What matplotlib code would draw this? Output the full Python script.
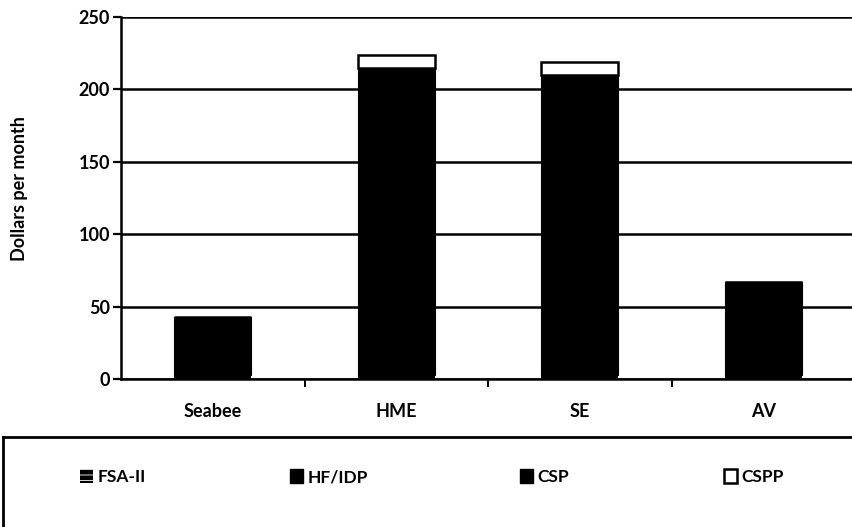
import numpy as np
import matplotlib.pyplot as plt
from matplotlib.patches import Patch

# --- data ---
categories = ["Seabee", "HME", "SE", "AV"]
fsa_ii = [3, 3, 3, 3]
hf_idp = [14, 12, 11, 9]
csp = [26, 200, 196, 55]
cspp = [0, 9, 9, 0]
yticks = [0, 50, 100, 150, 200, 250]
legend_labels = ["FSA-II", "HF/IDP", "CSP", "CSPP"]

plt.rcParams['font.family'] = ['Lato', 'DejaVu Sans']
plt.rcParams['hatch.linewidth'] = 0.6

W, H = 853, 527
fig = plt.figure(figsize=(W / 100, H / 100), dpi=100)

# --- main axes ---
ax = fig.add_axes([121 / W, 1 - 379 / H, (855 - 121) / W, (379 - 17) / H])
x = np.arange(len(categories))
bw = 0.42

b0 = np.zeros(len(categories))
ax.bar(x, fsa_ii, bw, bottom=b0, color="black", edgecolor="white",
       hatch="---", linewidth=0, zorder=3)
b1 = b0 + np.array(fsa_ii)
ax.bar(x, hf_idp, bw, bottom=b1, color="black", edgecolor="black",
       linewidth=0.8, zorder=3)
b2 = b1 + np.array(hf_idp)
ax.bar(x, csp, bw, bottom=b2, color="black", edgecolor="black",
       linewidth=0.8, zorder=3)
b3 = b2 + np.array(csp)
ax.bar(x, cspp, bw, bottom=b3, color="white", edgecolor="black",
       linewidth=1.8, zorder=3)

ax.set_xlim(-0.5, 3.5)
ax.set_ylim(0, 250)
ax.set_yticks(yticks)
ax.yaxis.grid(True, color="black", linewidth=1.8, zorder=0)
ax.set_axisbelow(True)

for s in ["top", "right"]:
    ax.spines[s].set_visible(False)
ax.spines["left"].set_linewidth(1.8)
ax.spines["bottom"].set_linewidth(1.8)

ax.tick_params(axis="y", direction="out", length=6, width=1.6, pad=2,
               labelsize=13)
ax.set_xticks(x)
ax.set_xticklabels(categories, fontsize=13, fontweight="bold")
ax.tick_params(axis="x", length=0, pad=17)
ax.set_xticks(x[:-1] + 0.5, minor=True)
ax.tick_params(axis="x", which="minor", direction="out", length=6, width=1.4)
for lbl in ax.get_yticklabels():
    lbl.set_fontweight("bold")

ax.set_ylabel("Dollars per month", fontsize=13, fontweight="bold")
ax.yaxis.set_label_coords(-(121 - 28) / (855 - 121), 0.525)

# --- legend box ---
lax = fig.add_axes([3 / W, -0.05, 1.0, (527 - 437) / H + 0.05])
lax.set_xticks([])
lax.set_yticks([])
lax.set_facecolor("white")
for s in lax.spines.values():
    s.set_linewidth(2)
    s.set_color("black")

handles = [
    Patch(facecolor="black", edgecolor="white", hatch="---", linewidth=0),
    Patch(facecolor="black", edgecolor="black"),
    Patch(facecolor="black", edgecolor="black"),
    Patch(facecolor="white", edgecolor="black", linewidth=1.8),
]
entry_x = [80, 290, 520, 724]
for h, lab, ex in zip(handles, legend_labels, entry_x):
    leg = fig.legend([h], [lab], frameon=False, loc="center left",
                     bbox_to_anchor=(ex / W, 1 - 477 / H),
                     handlelength=0.75, handleheight=0.9, handletextpad=0.25,
                     borderaxespad=0, borderpad=0,
                     prop={"size": 12.5, "weight": "bold"})

fig.savefig("out.png", dpi=100)
